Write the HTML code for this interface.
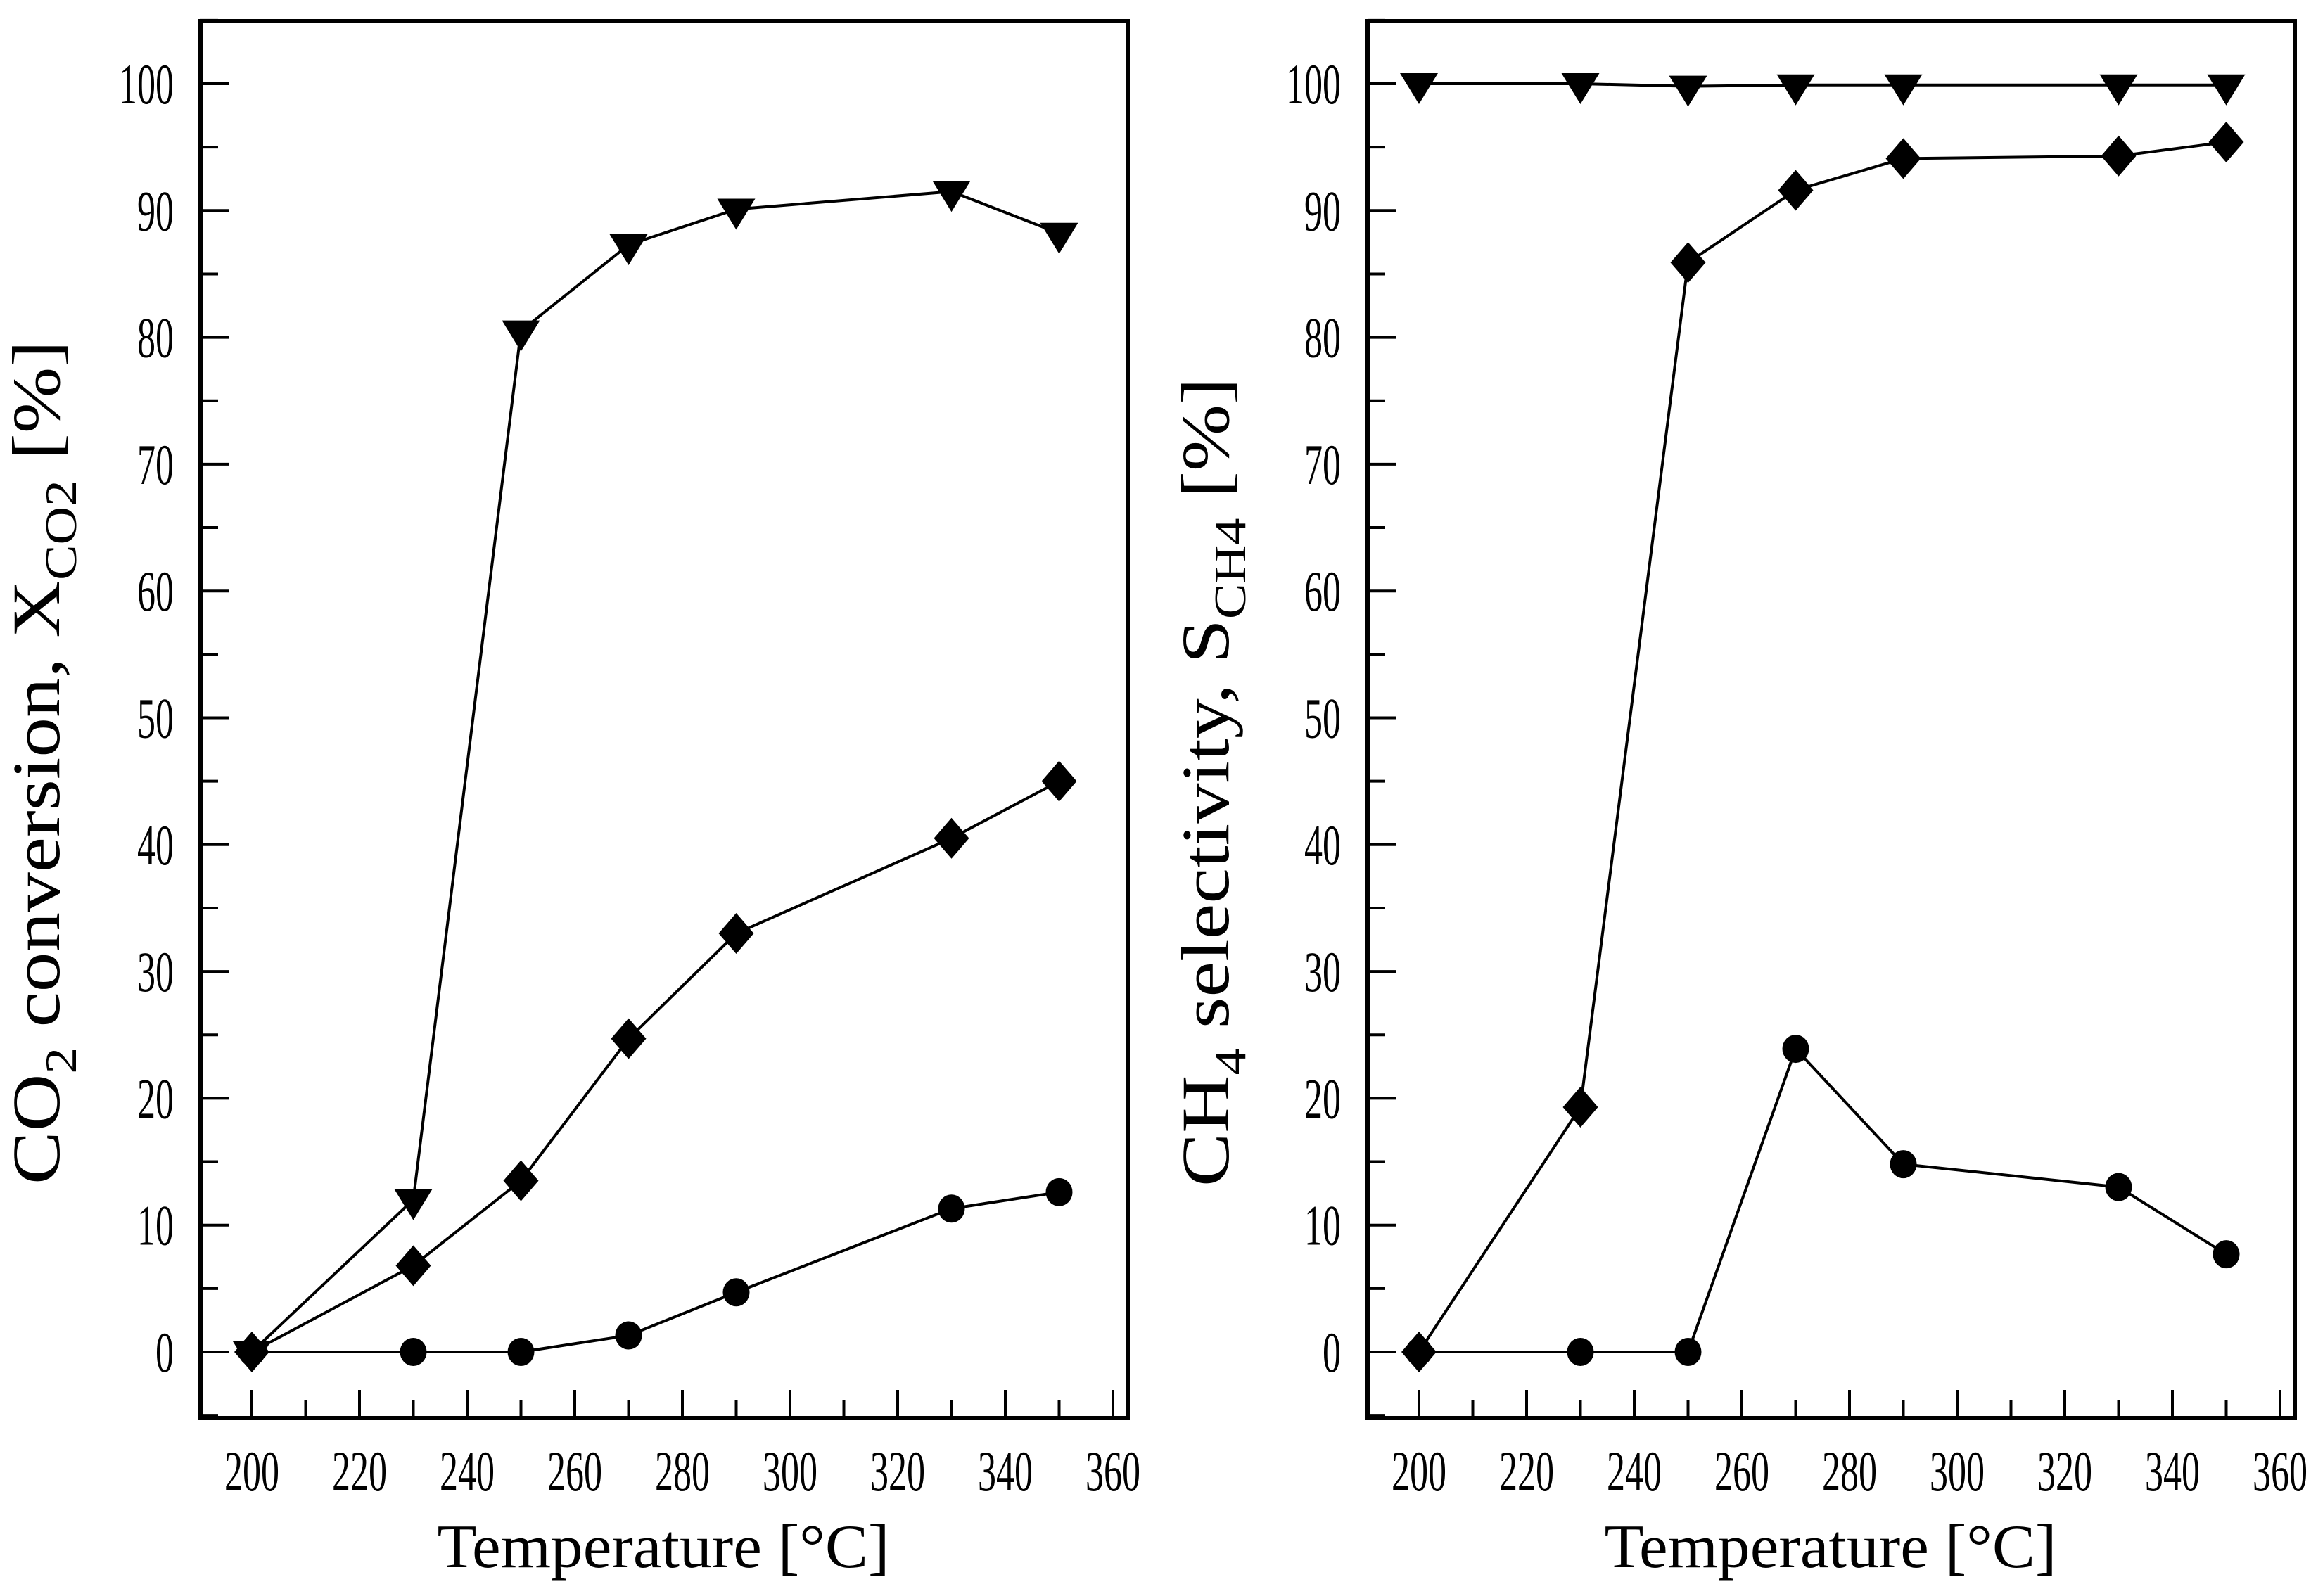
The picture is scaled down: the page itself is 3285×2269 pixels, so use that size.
<!DOCTYPE html>
<html><head><meta charset="utf-8"><style>
html,body{margin:0;padding:0;background:#fff;}
svg{display:block;font-family:"Liberation Serif",serif;}
</style></head><body>
<svg id="chart" width="3285" height="2269" viewBox="0 0 3285 2269" xmlns="http://www.w3.org/2000/svg"></svg>
<script>
const temps = [200, 230, 250, 270, 290, 330, 350];
const convTriangle = [0, 12, 80.5, 87.3, 90.1, 91.5, 88.2];
const convDiamond = [0, 6.8, 13.5, 24.7, 33, 40.5, 45];
const convCircle = [0, 0, 0, 1.3, 4.7, 11.3, 12.6];
const selTriangle = [100, 100, 99.8, 99.9, 99.9, 99.9, 99.9];
const selDiamond = [0, 19.3, 85.9, 91.6, 94.1, 94.3, 95.4];
const selCircle = [0, 0, 0, 23.9, 14.8, 13, 7.7];
const xTickLabels = [200, 220, 240, 260, 280, 300, 320, 340, 360];
const yTickLabels = [0, 10, 20, 30, 40, 50, 60, 70, 80, 90, 100];

const NS = "http://www.w3.org/2000/svg";
const svg = document.getElementById('chart');
function mk(tag, attrs, parent) {
  const e = document.createElementNS(NS, tag);
  for (const k in attrs) e.setAttribute(k, attrs[k]);
  (parent || svg).appendChild(e);
  return e;
}
function panel(left, name, series, ylabelMain, ylabelSub, ylabelMid, ylabelSub2, ylabelEnd, ylabX, ylabY, ylabLen) {
  const right = left + 1318, top = 30, bottom = 2016;
  const g = mk('g', {});
  
  
  const xS = v => left + 73 + (v - 200) * 153 / 20;
  const yS = v => 1922 - v * 18.03;
  const fr = mk('rect', {x: left, y: top, width: right - left, height: bottom - top, fill: 'none', stroke: '#000', 'stroke-width': 6}, g);
  
  
  for (let v = 200; v <= 360; v += 10) {
    const major = v % 20 === 0;
    const t = mk('line', {x1: xS(v), x2: xS(v), y1: bottom, y2: bottom - (major ? 40 : 25), stroke: '#000', 'stroke-width': 4}, g);
    
    
  }
  xTickLabels.forEach(v => {
    const t = mk('text', {x: xS(v), y: 2119, 'font-size': 82, 'text-anchor': 'middle', textLength: 78, lengthAdjust: 'spacingAndGlyphs'}, g);
    t.textContent = v;
    
    
  });
  for (let v = -5; v <= 105; v += 5) {
    const major = v % 10 === 0;
    const t = mk('line', {x1: left, x2: left + (major ? 40 : 25), y1: yS(v), y2: yS(v), stroke: '#000', 'stroke-width': 4}, g);
    
    
  }
  yTickLabels.forEach(v => {
    const s = String(v);
    const t = mk('text', {x: left - 38, y: yS(v) + 28, 'font-size': 82, 'text-anchor': 'end', textLength: s.length * 26, lengthAdjust: 'spacingAndGlyphs'}, g);
    t.textContent = s;
    
    
  });
  const xt = mk('text', {x: left + 658, y: 2228, 'font-size': 88, 'text-anchor': 'middle', textLength: 643, lengthAdjust: 'spacingAndGlyphs'}, g);
  xt.textContent = 'Temperature [°C]';
  
  
  const yt = mk('text', {x: 0, y: 0, 'font-size': 96, 'text-anchor': 'middle', textLength: ylabLen, lengthAdjust: 'spacingAndGlyphs', transform: `translate(${ylabX},${ylabY}) rotate(-90)`}, g);
  
  
  const a = mk('tspan', {}, yt); a.textContent = ylabelMain;
  const b = mk('tspan', {dy: 24, 'font-size': 64}, yt); b.textContent = ylabelSub;
  const c = mk('tspan', {dy: -24}, yt); c.textContent = ylabelMid;
  const d = mk('tspan', {dy: 24, 'font-size': 64}, yt); d.textContent = ylabelSub2;
  const e = mk('tspan', {dy: -24}, yt); e.textContent = ylabelEnd;
  series.forEach(([vals, shape]) => {
    const pts = temps.map((t, i) => [xS(t), yS(vals[i])]);
    const pl = mk('polyline', {points: pts.map(p => p.join(',')).join(' '), fill: 'none', stroke: '#000', 'stroke-width': 4}, g);
    
    
    pts.forEach(([x, y]) => {
      let m;
      if (shape === 'circle') m = mk('ellipse', {cx: x, cy: y, rx: 19, ry: 20, fill: '#000'}, g);
      else if (shape === 'diamond') m = mk('polygon', {points: `${x},${y-29} ${x+25},${y} ${x},${y+29} ${x-25},${y}`, fill: '#000'}, g);
      else m = mk('polygon', {points: `${x-27},${y-15} ${x+27},${y-15} ${x},${y+29}`, fill: '#000'}, g);
      
      
    });
  });
}
panel(285, 'conversion-panel', [[convCircle, 'circle'], [convDiamond, 'diamond'], [convTriangle, 'triangle']],
  'CO', '2', ' conversion, X', 'CO2', ' [%]', 84, 1084, 1200);
panel(1944, 'selectivity-panel', [[selCircle, 'circle'], [selDiamond, 'diamond'], [selTriangle, 'triangle']],
  'CH', '4', ' selectivity, S', 'CH4', ' [%]', 1746, 1112, 1150);
</script>
</body></html>
